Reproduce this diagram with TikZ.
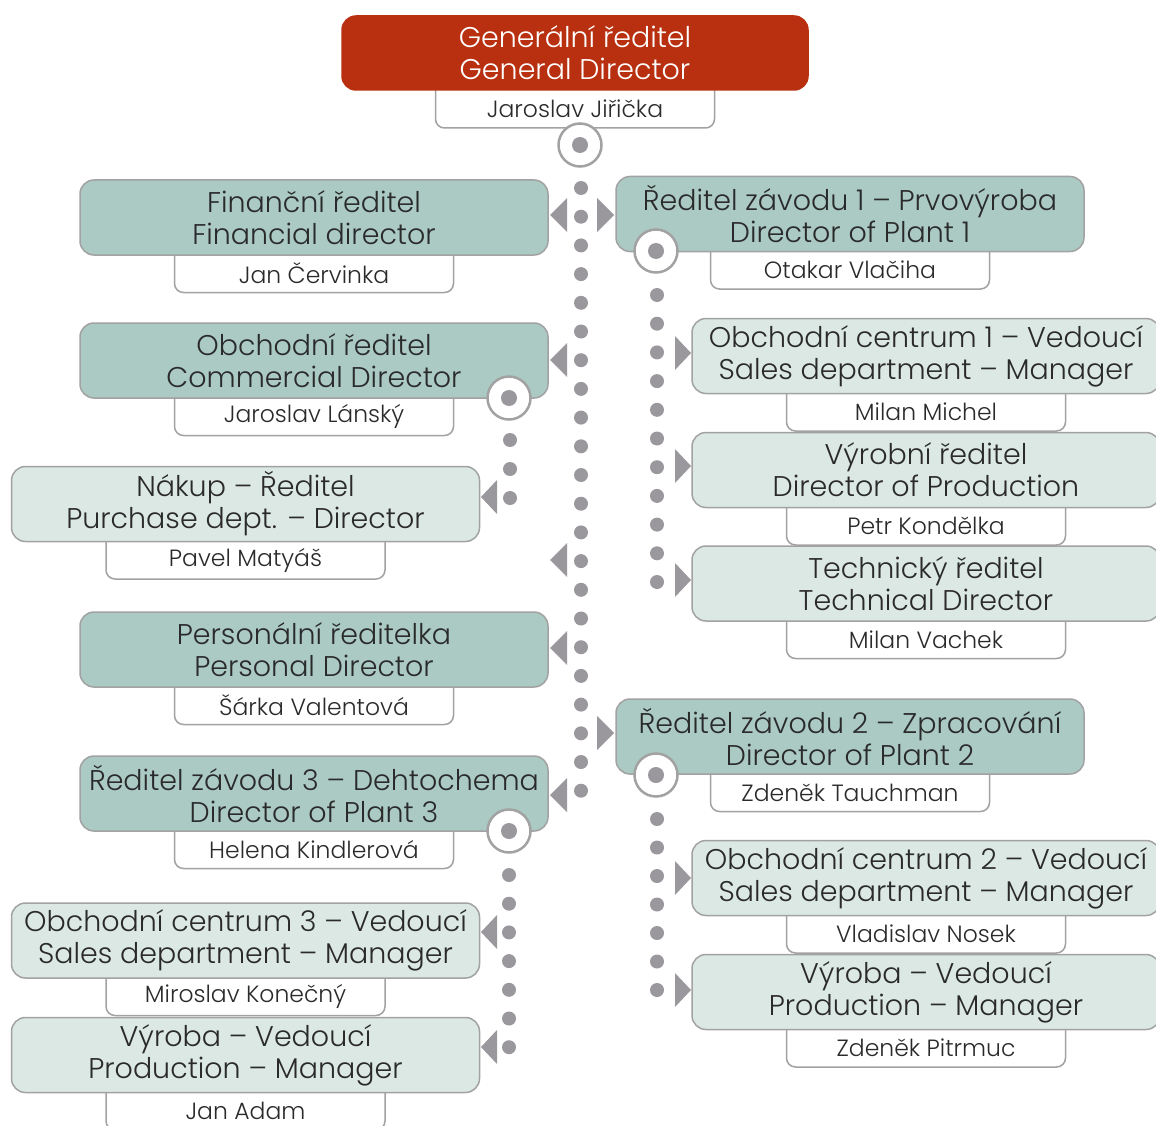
\documentclass[tikz,border=0pt]{standalone}
\usepackage{fontspec}
\IfFontExistsTF{Poppins Light}{\setmainfont{Poppins Light}}{\setmainfont{Poppins}}

\definecolor{chiefred}{HTML}{B8300F}
\definecolor{tealdark}{HTML}{AACAC3}
\definecolor{teallight}{HTML}{DBE8E4}
\definecolor{framegray}{HTML}{A2A2A2}
\definecolor{dotgray}{HTML}{9A979D}
\definecolor{ink}{HTML}{2A2A2A}

\tikzset{
  box/.style={draw=framegray,line width=1.5pt,rounded corners=14pt,
    minimum width=468pt,minimum height=75pt,inner sep=0pt,align=center,
    text=ink,font=\fontsize{28.5}{32}\selectfont},
  darkbox/.style={box,fill=tealdark},
  lightbox/.style={box,fill=teallight},
  chiefbox/.style={box,fill=chiefred,draw=chiefred,text=white,
    minimum width=466pt,minimum height=74pt},
  tab/.style={draw=framegray,line width=1.5pt,fill=white},
  person/.style={text=ink,font=\fontsize{23.5}{26}\selectfont,inner sep=0pt},
  hub/.style={circle,draw=framegray,line width=2.5pt,fill=white,
    minimum size=43pt,inner sep=0pt,
    path picture={\fill[dotgray] (path picture bounding box.center) circle (8pt);}},
  tip/.style={fill=dotgray}
}

% #1 name, #2 x, #3 y, #4 style, #5 czech, #6 english, #7 person
\newcommand{\orgunit}[7]{%
  \draw[tab] (#2-139.5,#3) [rounded corners=9pt] -- ++(0,75) -- ++(279,0) -- ++(0,-75);
  \node[#4] (#1) at (#2,#3) {#5\\#6};
  \node[person] (#1-name) at (#2,#3+56) {#7};
}

\begin{document}
\begin{tikzpicture}[x=1pt,y=-1pt]
\useasboundingbox (0,0) rectangle (1156,1126);

% top
\orgunit{gen}{575}{53}{chiefbox}{Generální ředitel}{General Director}{Jaroslav Jiřička}

% left column
\orgunit{fin}{314}{217.5}{darkbox}{Finanční ředitel}{Financial director}{Jan Červinka}
\orgunit{com}{314}{360.5}{darkbox}{Obchodní ředitel}{Commercial Director}{Jaroslav Lánský}
\orgunit{pur}{245.5}{504}{lightbox}{Nákup – Ředitel}{Purchase dept. – Director}{Pavel Matyáš}
\orgunit{per}{314}{649.5}{darkbox}{Personální ředitelka}{Personal Director}{Šárka Valentová}
\orgunit{plc}{314}{793.5}{darkbox}{Ředitel závodu 3 – Dehtochema}{Director of Plant 3}{Helena Kindlerová}
\orgunit{salc}{245.5}{940.5}{lightbox}{Obchodní centrum 3 – Vedoucí}{Sales department – Manager}{Miroslav Konečný}
\orgunit{proc}{245.5}{1055}{lightbox}{Výroba – Vedoucí}{Production – Manager}{Jan Adam}

% right column
\orgunit{pla}{850}{214}{darkbox}{Ředitel závodu 1 – Prvovýroba}{Director of Plant 1}{Otakar Vlačiha}
\orgunit{sala}{926}{356}{lightbox}{Obchodní centrum 1 – Vedoucí}{Sales department – Manager}{Milan Michel}
\orgunit{prd}{926}{470}{lightbox}{Výrobní ředitel}{Director of Production}{Petr Kondělka}
\orgunit{tec}{926}{583.5}{lightbox}{Technický ředitel}{Technical Director}{Milan Vachek}
\orgunit{plb}{850}{736.5}{darkbox}{Ředitel závodu 2 – Zpracování}{Director of Plant 2}{Zdeněk Tauchman}
\orgunit{salb}{926}{878}{lightbox}{Obchodní centrum 2 – Vedoucí}{Sales department – Manager}{Vladislav Nosek}
\orgunit{prb}{926}{992}{lightbox}{Výroba – Vedoucí}{Production – Manager}{Zdeněk Pitrmuc}

% hubs
\node[hub] (gen-hub) at (580,145) {};
\node[hub] (pla-hub) at (656,251) {};
\node[hub] (com-hub) at (509,398) {};
\node[hub] (plc-hub) at (509,831) {};
\node[hub] (plb-hub) at (656,775) {};

% dotted spines
\foreach \k in {0,...,21}
  \fill[dotgray] (581,188+28.7*\k) circle (7pt);
\foreach \k in {0,...,10}
  \fill[dotgray] (657,295+28.7*\k) circle (7pt);
\foreach \k in {0,...,2}
  \fill[dotgray] (510,440+29*\k) circle (7pt);
\foreach \k in {0,...,6}{
  \fill[dotgray] (509,875+28.7*\k) circle (7pt);
  \fill[dotgray] (657,819+28.5*\k) circle (7pt);}

% arrow heads
\foreach \y in {215,360,560,648,795}
  \fill[tip] (550,\y) -- (567,\y-17) -- (567,\y+17) -- cycle;
\foreach \y in {215,733}
  \fill[tip] (614,\y) -- (597,\y-17) -- (597,\y+17) -- cycle;
\foreach \y in {353,466,580,878,990}
  \fill[tip] (691,\y) -- (675,\y-17) -- (675,\y+17) -- cycle;
\foreach \y in {497,932,1047}
  \fill[tip] (481,\y) -- (497,\y-17) -- (497,\y+17) -- cycle;
\end{tikzpicture}
\end{document}
